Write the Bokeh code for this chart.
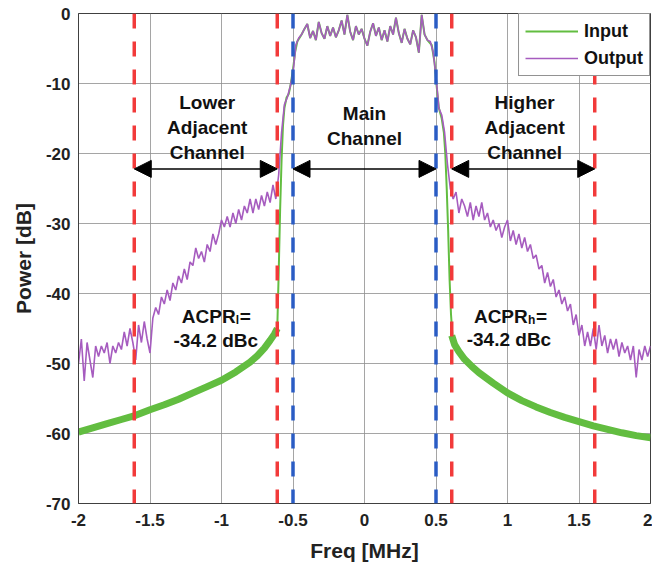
import numpy as np
from bokeh.plotting import figure
from bokeh.models import (ColumnDataSource, Span, Arrow, NormalHead, FixedTicker,
                          Legend, LegendItem, Range1d)
from bokeh.core.properties import value
from bokeh.embed import file_html
from bokeh.resources import INLINE

FONT = "Liberation Sans"
GREEN = "#62bd40"
PURPLE = "#a65cbf"
RED = "#f23a3a"
BLUE = "#2a5cc4"

# ---------------- axis ticks ----------------
x_ticks = [-2, -1.5, -1, -0.5, 0, 0.5, 1, 1.5, 2]
x_tick_labels = ["-2", "-1.5", "-1", "-0.5", "0", "0.5", "1", "1.5", "2"]
y_ticks = [0, -10, -20, -30, -40, -50, -60, -70]
y_tick_labels = ["0", "-10", "-20", "-30", "-40", "-50", "-60", "-70"]

# ---------------- Output spectrum (purple), sampled every 0.02 MHz ----------------
out_lower = [-50, -46.5, -52.5, -47, -49.5, -52, -47.5, -49, -47.5, -48.5,
             -47, -50, -47.5, -48.5, -47, -48, -45.5, -47.5, -45, -47,
             -49.5, -44.5, -47, -44, -46.5, -48.5, -43.5, -42, -43, -40.5,
             -41.5, -39.5, -41, -38.5, -39.5, -37.5, -38.5, -36.5, -38, -35.5,
             -36, -33.5, -35, -34, -35.5, -33, -34, -31.5, -33, -31.5,
             -29.5, -30.5, -29, -30.5, -28.5, -30, -28, -29.5, -27.5, -28.5,
             -26.5, -28.5, -26.5, -28, -26, -27.5, -25.5, -27, -24.5, -26.5]
out_lower_edge = [-23, -17, -13, -12, -10.5, -8.5, -4.5, -3.5]
out_main = [-3.0, -2.2, -1.5, -3.5, -2.5, -3.8, -1.2, -2.8, -3.6, -1.8,
            -3.2, -2.0, -3.4, -2.4, -1.0, -3.0, -0.2, -2.6, -3.8, -1.8,
            -3.0, -2.2, -3.6, -4.6, -2.6, -1.4, -3.2, -2.0, -3.8, -2.4,
            -4.0, -1.8, -3.0, -0.6, -2.8, -4.2, -2.2, -3.6, -4.4, -2.4,
            -3.4, -5.6, -0.2, -3.0, -3.8]
out_upper_edge = [-4.0, -5.5, -9.0, -13.5, -14.5, -17, -21.5, -25]
out_upper = [-26.5, -25.5, -28.5, -26.5, -27.5, -29, -27, -29.5, -27.5, -29,
             -27, -29.5, -28.5, -30.5, -29.5, -31, -30, -32, -30.5, -29.5,
             -32.5, -31, -33, -31.5, -33.5, -32, -34, -33, -35, -34.5,
             -36.5, -36, -38.5, -37, -39, -38, -40.5, -39.5, -41.5, -40.5,
             -42.5, -41.5, -44.5, -43, -46, -44.5, -47.5, -45.5, -47.5, -45,
             -48, -44.5, -47.5, -46, -48.5, -46.5, -48, -46.5, -49, -47,
             -48.5, -47.5, -49.5, -47.5, -52, -48, -49.5, -47.5, -49, -47.5]
out_power = out_lower + out_lower_edge + out_main + out_upper_edge + out_upper
assert len(out_power) == 201
out_freq = [round(-2 + 0.02 * i, 2) for i in range(len(out_power))]

# ---------------- Input spectrum (green) ----------------
in_left_freq = [-2.0, -1.9, -1.8, -1.7, -1.6, -1.5, -1.4, -1.3, -1.2, -1.1,
                -1.0, -0.9, -0.8, -0.75, -0.7, -0.66, -0.63, -0.61]
in_left_power = [-59.8, -59.2, -58.6, -58.0, -57.4, -56.6, -55.9, -55.1, -54.2, -53.3,
                 -52.4, -51.2, -49.8, -48.9, -47.8, -46.7, -45.8, -45.0]
in_right_freq = [0.61, 0.63, 0.66, 0.7, 0.75, 0.8, 0.9, 1.0, 1.1, 1.2,
                 1.3, 1.4, 1.5, 1.6, 1.7, 1.8, 1.9, 2.0]
in_right_power = [-46.0, -47.3, -48.3, -49.4, -50.4, -51.3, -52.8, -54.2, -55.3, -56.2,
                  -57.0, -57.7, -58.3, -58.9, -59.4, -59.9, -60.3, -60.6]
in_ledge_freq = [-0.61, -0.60, -0.59, -0.58, -0.57, -0.56, -0.545, -0.53, -0.515, -0.50, -0.485, -0.47]
in_ledge_power = [-45, -37, -28, -21, -16, -13.5, -12, -11.5, -10, -8, -5.5, -4]
in_redge_freq = [0.47, 0.49, 0.505, 0.52, 0.54, 0.555, 0.565, 0.575, 0.585, 0.595, 0.605, 0.615]
in_redge_power = [-4.5, -7, -10.5, -13.5, -15, -17, -20, -25, -31, -38, -43, -46]
main_freq = out_freq[78:123]
in_core_freq = in_ledge_freq + main_freq + in_redge_freq
in_core_power = in_ledge_power + out_main + in_redge_power

# ---------------- markers / annotations ----------------
red_lines = [-1.61, -0.61, 0.61, 1.61]
blue_lines = [-0.5, 0.5]
arrow_x0 = [-1.61, -0.5, 0.61]
arrow_x1 = [-0.61, 0.5, 1.61]
arrow_y = [-22.2, -22.2, -22.2]

ann_text = ["Lower", "Adjacent", "Channel", "Main", "Channel",
            "Higher", "Adjacent", "Channel", "-34.2 dBc", "-34.2 dBc"]
ann_x = [-1.1, -1.1, -1.1, 0, 0, 1.12, 1.12, 1.12, -1.04, 1.01]
ann_y = [-12.7, -16.3, -19.8, -14.3, -17.8, -12.7, -16.3, -19.8, -46.7, -46.6]

acpr_x = [-1.04, 1.01]
acpr_y = [-43.3, -43.3]
acpr_sub = ["l", "h"]

# ---------------- figure ----------------
p = figure(frame_width=572, frame_height=490,
           x_range=Range1d(-2, 2), y_range=Range1d(-70, 0),
           output_backend="svg", toolbar_location=None,
           min_border_left=78, min_border_right=2, min_border_top=13, min_border_bottom=40)
p.background_fill_color = "white"
p.outline_line_color = "#404040"
p.outline_line_width = 1

for ax in (p.xaxis[0], p.yaxis[0]):
    ax.major_tick_in = 0
    ax.major_tick_out = 0
    ax.minor_tick_in = 0
    ax.minor_tick_out = 0
    ax.axis_line_color = "#404040"
    ax.major_label_text_font = FONT
    ax.major_label_text_font_style = "bold"
    ax.major_label_text_font_size = "17px"
    ax.major_label_text_color = "#222222"
    ax.axis_label_text_font = FONT
    ax.axis_label_text_font_style = "bold"
    ax.axis_label_text_font_size = "21px"
    ax.axis_label_text_color = "#222222"
p.xaxis.major_label_standoff = 10
p.xaxis.axis_label_standoff = 10
p.yaxis.major_label_standoff = 8
p.yaxis.axis_label_standoff = 8

p.xaxis.ticker = FixedTicker(ticks=x_ticks)
p.yaxis.ticker = FixedTicker(ticks=y_ticks)
p.xaxis.major_label_overrides = {t: l for t, l in zip(x_ticks, x_tick_labels)}
p.yaxis.major_label_overrides = {t: l for t, l in zip(y_ticks, y_tick_labels)}
p.xaxis.axis_label = "Freq [MHz]"
p.yaxis.axis_label = "Power [dB]"

for g in (p.xgrid[0], p.ygrid[0]):
    g.grid_line_color = "#8f8f8f"
    g.grid_line_width = 1
    g.grid_line_alpha = 0.8

# input: thick noisy floor band + thin line
p.line(in_left_freq, in_left_power, line_color=GREEN, line_width=7)
p.line(in_right_freq, in_right_power, line_color=GREEN, line_width=7)
r_in = p.line(in_core_freq, in_core_power, line_color=GREEN, line_width=2)
# output
r_out = p.line(out_freq, out_power, line_color=PURPLE, line_width=1.6)

for xv in red_lines:
    p.add_layout(Span(location=xv, dimension="height", line_color=RED,
                      line_width=3.5, line_dash="15 13"))
for xv in blue_lines:
    p.add_layout(Span(location=xv, dimension="height", line_color=BLUE,
                      line_width=3.5, line_dash="15 13"))

asrc = ColumnDataSource(dict(x0=arrow_x0, x1=arrow_x1, y=arrow_y))
p.add_layout(Arrow(x_start="x0", y_start="y", x_end="x1", y_end="y", source=asrc,
                   line_color="black", line_width=1.5,
                   start=NormalHead(size=17, fill_color="black", line_color="black", line_width=1),
                   end=NormalHead(size=17, fill_color="black", line_color="black", line_width=1)))

tsrc = ColumnDataSource(dict(x=ann_x, y=ann_y, t=ann_text))
p.text(x="x", y="y", text="t", source=tsrc, text_font=value(FONT), text_font_style="bold",
       text_font_size="19px", text_align="center", text_baseline="alphabetic", text_color="#111111")

# ACPR labels with subscripts
p.text(x=acpr_x, y=acpr_y, text=["ACPR", "ACPR"], x_offset=[-34, -35],
       text_font=value(FONT), text_font_style="bold", text_font_size="19px",
       text_align="left", text_baseline="alphabetic", text_color="#111111")
p.text(x=acpr_x, y=acpr_y, text=acpr_sub, x_offset=[20, 19], y_offset=[3, 3],
       text_font=value(FONT), text_font_style="bold", text_font_size="12px",
       text_align="left", text_baseline="alphabetic", text_color="#111111")
p.text(x=acpr_x, y=acpr_y, text=["=", "="], x_offset=[24, 27],
       text_font=value(FONT), text_font_style="bold", text_font_size="19px",
       text_align="left", text_baseline="alphabetic", text_color="#111111")

legend = Legend(items=[LegendItem(label="Input", renderers=[r_in]),
                       LegendItem(label="Output", renderers=[r_out])],
                location="top_right", margin=0, padding=6, spacing=5,
                glyph_width=53, glyph_height=22, label_height=22, label_standoff=6,
                label_text_font=FONT, label_text_font_style="bold",
                label_text_font_size="18px", label_text_color="#111111",
                border_line_color="#262626", border_line_width=1,
                background_fill_alpha=1.0)
p.add_layout(legend)

open("out.html", "w").write(file_html(p, INLINE))
